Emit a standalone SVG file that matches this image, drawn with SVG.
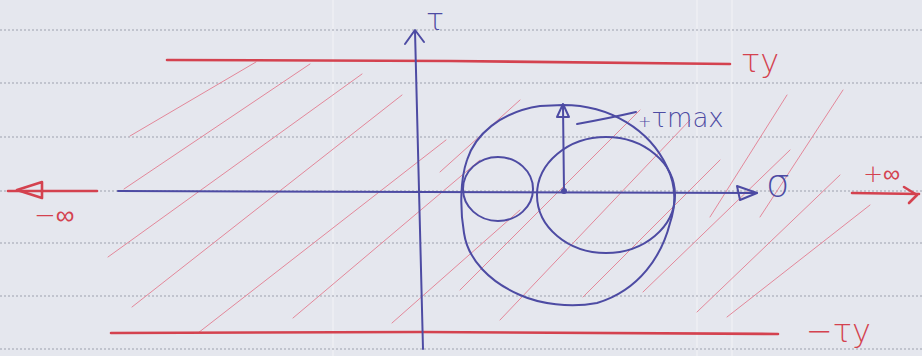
<svg xmlns="http://www.w3.org/2000/svg" width="922" height="356" viewBox="0 0 922 356">
<style>
.rule{stroke:#9ea1ae;stroke-width:1.2;stroke-dasharray:2 2;fill:none}
.fold{stroke:#f4f5f8;stroke-width:1.5;opacity:0.6}
.hatch{stroke:#e3889a;stroke-width:1;fill:none;stroke-linecap:round}
.red{stroke:#d4424f;stroke-width:2.6;fill:none;stroke-linecap:round;stroke-linejoin:round}
.blue{stroke:#4d4ba3;stroke-width:2;fill:none;stroke-linecap:round;stroke-linejoin:round}
.rt{fill:#d4424f;font-family:"DejaVu Sans",sans-serif;font-weight:300}
.bt{fill:#4d4ba3;font-family:"DejaVu Sans",sans-serif;font-weight:300}
</style>
<rect width="922" height="356" fill="#e5e7ee"/>
<g id="paper">
<line class="fold" x1="333" y1="0" x2="333" y2="356"/>
<line class="fold" x1="697" y1="0" x2="697" y2="356"/>
<line class="fold" x1="732" y1="0" x2="732" y2="356"/>
<line class="rule" x1="0" y1="30" x2="922" y2="30"/>
<line class="rule" x1="0" y1="83" x2="922" y2="83"/>
<line class="rule" x1="0" y1="137" x2="922" y2="137"/>
<line class="rule" x1="0" y1="191" x2="922" y2="191"/>
<line class="rule" x1="0" y1="243" x2="922" y2="243"/>
<line class="rule" x1="0" y1="296" x2="922" y2="296"/>
<line class="rule" x1="0" y1="349" x2="922" y2="349"/>
</g>
<g id="hatching">
<path class="hatch" d="M130,136 L256,62"/>
<path class="hatch" d="M124,189 L310,64"/>
<path class="hatch" d="M108,257 L362,74"/>
<path class="hatch" d="M132,307 L402,95"/>
<path class="hatch" d="M198,333 L446,140"/>
<path class="hatch" d="M293,318 L480,160"/>
<path class="hatch" d="M392,323 L520,210"/>
<path class="hatch" d="M440,172 L520,100"/>
<path class="hatch" d="M460,290 L640,110"/>
<path class="hatch" d="M500,320 L690,120"/>
<path class="hatch" d="M583,297 L720,160"/>
<path class="hatch" d="M643,292 L790,150"/>
<path class="hatch" d="M697,312 L840,175"/>
<path class="hatch" d="M727,317 L870,205"/>
<path class="hatch" d="M710,217 L787,95"/>
<path class="hatch" d="M760,217 L843,90"/>
</g>
<g id="tau-y-line">
<path class="red" d="M167,60 L450,61 L730,64"/>
<text class="rt" x="741" y="72" font-size="32">τy</text>
</g>
<g id="minus-tau-y-line">
<path class="red" d="M111,333 L420,332 L778,334"/>
<text class="rt" x="806" y="342" font-size="32">−τy</text>
</g>
<g id="minus-infinity">
<path class="red" d="M8,191 L97,191"/>
<path class="red" d="M42,182 L17,190 L42,198 Z"/>
<text class="rt" x="34" y="224" font-size="26">−∞</text>
</g>
<g id="plus-infinity">
<path class="red" d="M852,193 L919,194"/>
<path class="red" d="M904,187 L917,195 L909,203"/>
<text class="rt" x="863" y="182" font-size="24">+∞</text>
</g>
<g id="sigma-axis">
<path class="blue" d="M118,191 L757,193"/>
<path class="blue" d="M737,186 L757,193 L740,200 Z"/>
<text class="bt" x="766" y="196" font-size="38">σ</text>
</g>
<g id="tau-axis">
<path class="blue" d="M415,31 L423,349"/>
<path class="blue" d="M405,44 L415,30 L424,42"/>
<text class="bt" x="426" y="30" font-size="30">τ</text>
</g>
<g id="mohr-circles">
<path class="blue" d="M563,105 C610,105 650,130 667,167 C676,185 676,205 670,223 C662,255 640,290 597,303 C570,308 540,304 520,295 C490,282 468,260 464,233 C460,210 460,180 467,160 C475,135 500,112 540,106 Z"/>
<ellipse class="blue" cx="498" cy="189" rx="35" ry="32"/>
<ellipse class="blue" cx="606" cy="195" rx="69" ry="58"/>
</g>
<g id="tau-max">
<circle cx="564" cy="191" r="3" fill="#4d4ba3"/>
<path class="blue" d="M564,191 L563,106"/>
<path class="blue" d="M557,117 L569,117 L563,104 Z"/>
<path class="blue" stroke-width="1.3" d="M577,124 Q610,118 636,112"/>
<text class="bt" x="638" y="127" font-size="26"><tspan font-size="16">+</tspan>τmax</text>
</g>
</svg>
